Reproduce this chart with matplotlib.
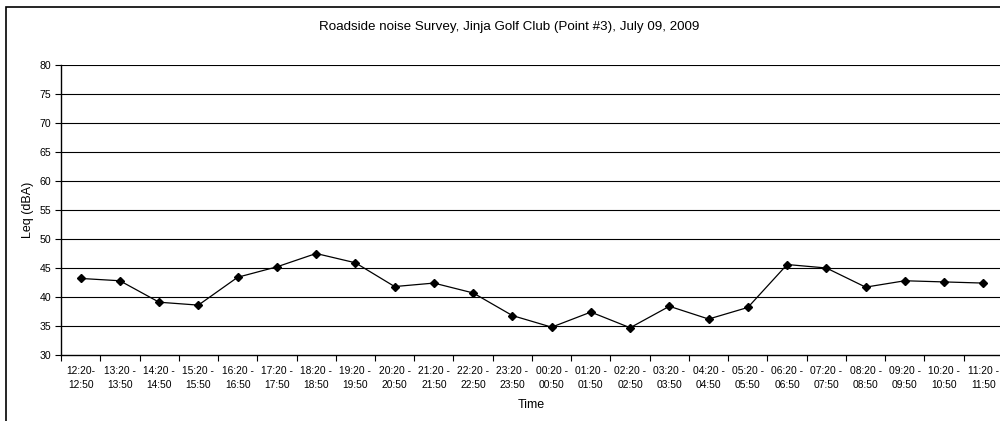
import matplotlib
matplotlib.use("Agg")
import matplotlib.pyplot as plt
from matplotlib.patches import Rectangle
import numpy as np

plt.rcParams['font.family'] = ['Liberation Sans', 'DejaVu Sans']

# time periods (two-line category labels)
periods = ["12:20-\n12:50", "13:20 -\n13:50", "14:20 -\n14:50", "15:20 -\n15:50",
           "16:20 -\n16:50", "17:20 -\n17:50", "18:20 -\n18:50", "19:20 -\n19:50",
           "20:20 -\n20:50", "21:20 -\n21:50", "22:20 -\n22:50", "23:20 -\n23:50",
           "00:20 -\n00:50", "01:20 -\n01:50", "02:20 -\n02:50", "03:20 -\n03:50",
           "04:20 -\n04:50", "05:20 -\n05:50", "06:20 -\n06:50", "07:20 -\n07:50",
           "08:20 -\n08:50", "09:20 -\n09:50", "10:20 -\n10:50", "11:20 -\n11:50"]
leq = [43.2, 42.8, 39.1, 38.6, 43.4, 45.2, 47.5, 45.9, 41.8, 42.4, 40.7, 36.8,
       34.8, 37.4, 34.7, 38.4, 36.2, 38.2, 45.6, 45.0, 41.7, 42.8, 42.6, 42.4]
yticks = [30, 35, 40, 45, 50, 55, 60, 65, 70, 75, 80]

W, H = 1000, 421
fig = plt.figure(figsize=(W / 100, H / 100), dpi=100)
# axes: left 61px, right ~1003px, top y=65px, bottom y=355px
ax = fig.add_axes([61 / W, 1 - 355 / H, (1003 - 61) / W, (355 - 65) / H])

x = np.arange(len(leq))
ax.plot(x, leq, color='black', lw=0.9, marker='D', ms=3.6, mfc='black', mec='black')

ax.set_xlim(-0.5, len(leq) - 0.5)
ax.set_ylim(30, 80)
ax.set_yticks(yticks)
ax.set_yticklabels([str(v) for v in yticks], fontsize=7.6)
for v in yticks[1:]:
    ax.axhline(v, color='black', lw=0.8, zorder=0)

# category labels at centres, tick marks at boundaries
ax.set_xticks(x)
ax.set_xticklabels(periods, fontsize=7.4, linespacing=1.5)
ax.tick_params(axis='x', length=0, pad=8)
ax.set_xticks(np.arange(len(leq) + 1) - 0.5, minor=True)
ax.tick_params(axis='x', which='minor', length=4, width=0.8, direction='out')
ax.tick_params(axis='y', length=4, width=0.8, direction='out', pad=3)

for s in ['top', 'right']:
    ax.spines[s].set_visible(False)
for s in ['left', 'bottom']:
    ax.spines[s].set_linewidth(1.0)

ax.set_ylabel("Leq (dBA)", fontsize=9, labelpad=4)
fig.text(531 / W, 1 - 405 / H, "Time", fontsize=9, ha='center', va='center')
fig.text(509 / W, 1 - 27 / H, "Roadside noise Survey, Jinja Golf Club (Point #3), July 09, 2009",
         fontsize=9.6, ha='center', va='center')

# outer chart frame (right and bottom run off the image)
fig.patches.append(Rectangle((6 / W, -0.05), 1.05, 1 - 7 / H + 0.05, transform=fig.transFigure,
                             fill=False, ec='black', lw=1.2))

fig.savefig("out.png", dpi=100)
